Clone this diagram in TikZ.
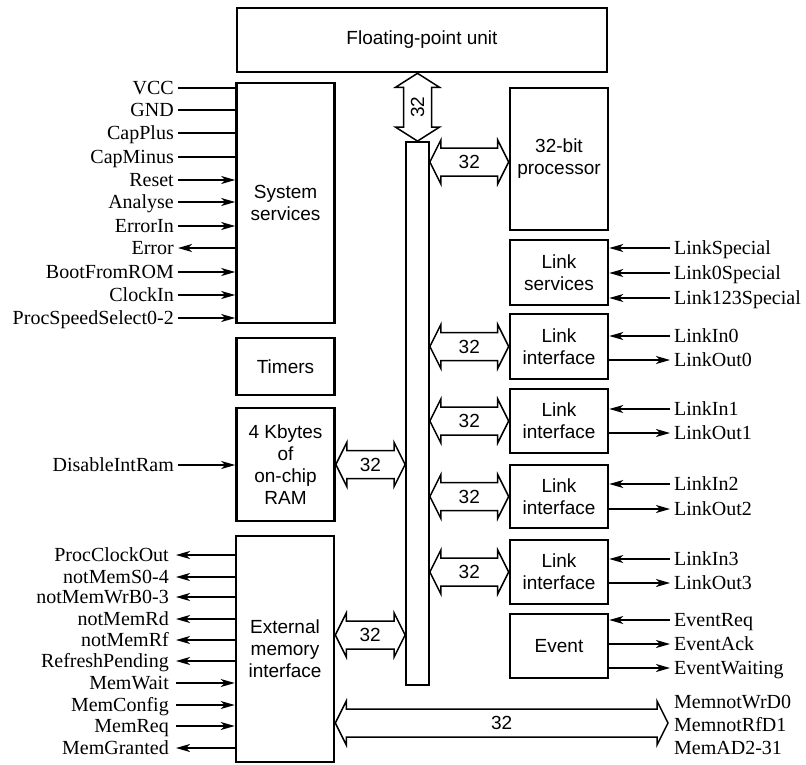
\documentclass[tikz,border=0pt]{standalone}
\usepackage{fontspec}
\setmainfont{Liberation Serif}
\setsansfont{Liberation Sans}
\usepackage{tikz}
\usetikzlibrary{arrows.meta,calc,positioning}

% fat bus arrows, tip to tip
\newcommand{\hbus}[3]{%
  \draw[busline] let \p1=(#1), \p2=(#2) in
    (\x1,\y1) -- (\x1+11,\y1+22) -- (\x1+11,\y1+14) -- (\x2-11,\y1+14) -- (\x2-11,\y1+22)
    -- (\x2,\y1) -- (\x2-11,\y1-22) -- (\x2-11,\y1-14) -- (\x1+11,\y1-14) -- (\x1+11,\y1-22) -- cycle;
  \path let \p1=(#1), \p2=(#2) in node[num] at ({(\x1+\x2)/2},\y1) {#3};}
\newcommand{\vbus}[3]{%
  \draw[busline] let \p1=(#1), \p2=(#2) in
    (\x1,\y1) -- (\x1-22,\y1-14) -- (\x1-14,\y1-14) -- (\x1-14,\y2+14) -- (\x1-22,\y2+14)
    -- (\x1,\y2) -- (\x1+22,\y2+14) -- (\x1+14,\y2+14) -- (\x1+14,\y1-14) -- (\x1+22,\y1-14) -- cycle;
  \path let \p1=(#1), \p2=(#2) in node[num, rotate=90] at (\x1,{(\y1+\y2)/2}) {#3};}

\begin{document}
\begin{tikzpicture}[x=1pt, y=-1pt,
  blk/.style={draw, line width=2.6pt, minimum width=98pt, align=center, inner sep=0pt,
    font=\sffamily\fontsize{19}{22}\selectfont},
  sig/.style={font=\rmfamily\fontsize{20}{22}\selectfont, inner sep=4pt, text height=15pt, text depth=2pt},
  wire/.style={line width=1.3pt},
  busline/.style={line width=1.5pt, fill=white},
  num/.style={font=\sffamily\fontsize{19}{22}\selectfont, inner sep=0pt},
  >={Stealth[length=14pt, width=8pt, inset=4pt]}]
\useasboundingbox (0,0) rectangle (806,764);

% blocks
\node[blk, minimum width=370pt, minimum height=64pt] (fpu) at (422,40) {Floating-point unit};
\node[blk, minimum height=240pt] (sys) at (285.5,203) {System\\services};
\node[blk, minimum height=57pt] (tim) at (285.5,366.5) {Timers};
\node[blk, minimum height=113pt] (ram) at (285.5,464.5) {4 Kbytes\\of\\on-chip\\RAM};
\node[blk, minimum height=226pt] (ext) at (285,649) {External\\memory\\interface};
\node[draw, line width=1.8pt, minimum width=23pt, minimum height=543pt] (bus) at (417.5,413.5) {};
\node[blk, minimum height=142pt] (proc) at (559,159) {32-bit\\processor};
\node[blk, minimum height=65pt] (lsv) at (559,272.5) {Link\\services};
\node[blk, minimum height=65pt] (li0) at (559,346.5) {Link\\interface};
\node[blk, minimum height=64pt] (li1) at (559,421) {Link\\interface};
\node[blk, minimum height=63pt] (li2) at (559,496.5) {Link\\interface};
\node[blk, minimum height=64pt] (li3) at (559,572) {Link\\interface};
\node[blk, minimum height=64pt] (evt) at (559,646) {Event};

% buses
\vbus{bus.north |- fpu.south}{bus.north}{32}
\hbus{bus.east |- 0,162}{proc.west |- 0,162}{32}
\foreach \b in {li0,li1,li2,li3}
  \hbus{bus.east |- \b.west}{\b.west}{32};
\hbus{ram.east}{bus.west |- ram.east}{32}
\hbus{ext.east |- 0,635}{bus.west |- 0,635}{32}
\coordinate (memend) at (668,723);
\hbus{ext.east |- memend}{memend}{32}

% system services signals
\foreach \t/\y/\d [count=\i] in {VCC/88/-, GND/110/-, CapPlus/133/-, CapMinus/157/-,
    Reset/180/->, Analyse/202/->, ErrorIn/226/->, Error/248/<-, BootFromROM/272/->,
    ClockIn/295/->, ProcSpeedSelect0-2/318/->} {
  \node[sig, anchor=east] (s\i) at (178,\y) {\t};
  \draw[wire, \d] (s\i.east) -- (s\i.east -| sys.west);
}
\node[sig, anchor=east] (dis) at (178,465) {DisableIntRam};
\draw[wire, ->] (dis.east) -- (dis.east -| ram.west);

% external memory signals
\foreach \t/\y/\d [count=\i] in {ProcClockOut/555/<-, notMemS0-4/577/<-, notMemWrB0-3/597/<-,
    notMemRd/619/<-, notMemRf/640/<-, RefreshPending/661/<-, MemWait/683/->,
    MemConfig/705/->, MemReq/726/->, MemGranted/748/<-} {
  \node[sig, anchor=east, inner xsep=7pt] (m\i) at (176,\y) {\t};
  \draw[wire, \d] (m\i.east) -- (m\i.east -| ext.west);
}

% link and event signals
\foreach \t/\y/\b/\d [count=\i] in {LinkSpecial/248/lsv/->, Link0Special/273/lsv/->,
    Link123Special/298/lsv/->, LinkIn0/336/li0/->, LinkOut0/360/li0/<-,
    LinkIn1/409/li1/->, LinkOut1/433/li1/<-, LinkIn2/484/li2/->, LinkOut2/509/li2/<-,
    LinkIn3/559/li3/->, LinkOut3/583/li3/<-, EventReq/620/evt/->,
    EventAck/644/evt/<-, EventWaiting/668/evt/<-} {
  \node[sig, anchor=west] (r\i) at (670,\y) {\t};
  \draw[wire, \d] (r\i.west) -- (r\i.west -| \b.east);
}

% external bus names
\node[sig, anchor=west] (ad0) at (670,702) {MemnotWrD0};
\node[sig, anchor=west] (ad1) at (670,725) {MemnotRfD1};
\node[sig, anchor=west] (ad2) at (670,748) {MemAD2-31};

\end{tikzpicture}
\end{document}
